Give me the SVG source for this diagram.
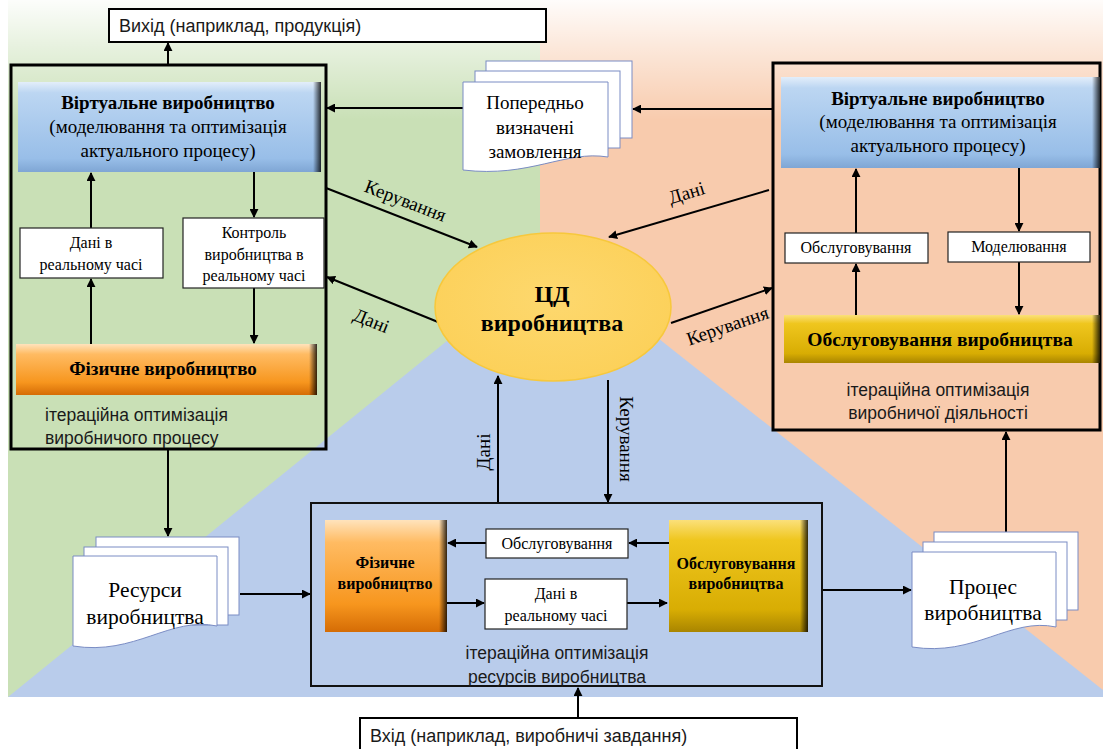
<svg xmlns="http://www.w3.org/2000/svg" width="1103" height="749" viewBox="0 0 1103 749">
<defs>
  <linearGradient id="gFade" x1="0" y1="0" x2="0" y2="1">
    <stop offset="0" stop-color="#fff" stop-opacity="0.95"/>
    <stop offset="0.4" stop-color="#fff" stop-opacity="0.55"/>
    <stop offset="1" stop-color="#fff" stop-opacity="0"/>
  </linearGradient>
  <linearGradient id="gBlue" x1="0" y1="0" x2="0" y2="1">
    <stop offset="0" stop-color="#E3EEFA"/>
    <stop offset="0.12" stop-color="#BCD6F2"/>
    <stop offset="0.85" stop-color="#98BEE8"/>
    <stop offset="1" stop-color="#7FA6D4"/>
  </linearGradient>
  <linearGradient id="gOrange" x1="0" y1="0" x2="0" y2="1">
    <stop offset="0" stop-color="#FFE3BC"/>
    <stop offset="0.2" stop-color="#FFBB62"/>
    <stop offset="0.75" stop-color="#F7961E"/>
    <stop offset="1" stop-color="#D56C05"/>
  </linearGradient>
  <linearGradient id="gGold" x1="0" y1="0" x2="0" y2="1">
    <stop offset="0" stop-color="#FBE07A"/>
    <stop offset="0.18" stop-color="#EFC61E"/>
    <stop offset="0.8" stop-color="#D8AD03"/>
    <stop offset="1" stop-color="#A98500"/>
  </linearGradient>
  <linearGradient id="gEdge" x1="0" y1="0" x2="1" y2="0">
    <stop offset="0" stop-color="#000" stop-opacity="0"/>
    <stop offset="1" stop-color="#000" stop-opacity="0.8"/>
  </linearGradient>
  <radialGradient id="gEll" cx="0.5" cy="0.45" r="0.6">
    <stop offset="0" stop-color="#FDD86E"/>
    <stop offset="1" stop-color="#FCD058"/>
  </radialGradient>
  <marker id="ah" viewBox="0 0 10 10" refX="9" refY="5" markerWidth="4.5" markerHeight="4.5" orient="auto" markerUnits="strokeWidth">
    <path d="M0,0 L10,5 L0,10 z" fill="#000"/>
  </marker>
  <style>
    .serif{font-family:'Liberation Serif','Times New Roman','DejaVu Serif',serif;fill:#000}
    .sans{font-family:'Liberation Sans',Arial,sans-serif;fill:#1a1a1a}
    .b{font-weight:bold}
    .c{text-anchor:middle}
    .box{fill:#fff;stroke:#222;stroke-width:1.2}
    .big{fill:none;stroke:#000;stroke-width:3}
    .doc{fill:#fff;stroke:#7A8CC4;stroke-width:1}
    .arr{stroke:#000;stroke-width:2;fill:none;marker-end:url(#ah)}
  </style>
</defs>

<!-- background -->
<g id="background">
  <rect x="8" y="0" width="532" height="697" fill="#C9E0B6"/>
  <rect x="540" y="0" width="563" height="697" fill="#F8CBAD"/>
  <polygon points="553,255 8,697 1103,697 1103,690" fill="#B9CCEB"/>
  <rect x="0" y="0" width="1103" height="120" fill="url(#gFade)"/>
</g>

<!-- connectors -->
<g id="connectors">
  <line class="arr" x1="168" y1="65" x2="168" y2="43"/>
  <line class="arr" x1="463" y1="108" x2="327" y2="108"/>
  <line class="arr" x1="772" y1="109" x2="633" y2="109"/>
  <line class="arr" x1="91" y1="228" x2="91" y2="173"/>
  <line class="arr" x1="254" y1="172" x2="254" y2="217"/>
  <line class="arr" x1="254" y1="288" x2="254" y2="343"/>
  <line class="arr" x1="91" y1="344" x2="91" y2="279"/>
  <line class="arr" x1="856" y1="233" x2="856" y2="169"/>
  <line class="arr" x1="1019" y1="168" x2="1019" y2="231"/>
  <line class="arr" x1="856" y1="315" x2="856" y2="264"/>
  <line class="arr" x1="1019" y1="262" x2="1019" y2="314"/>
  <line class="arr" x1="326" y1="188" x2="477" y2="247"/>
  <line class="arr" x1="438" y1="322" x2="327" y2="277"/>
  <line class="arr" x1="769" y1="190" x2="609" y2="237"/>
  <line class="arr" x1="671" y1="323" x2="772" y2="288"/>
  <line class="arr" x1="498" y1="503" x2="498" y2="376"/>
  <line class="arr" x1="608" y1="380" x2="608" y2="502"/>
  <line class="arr" x1="168" y1="449" x2="168" y2="536"/>
  <line class="arr" x1="240" y1="594" x2="310" y2="594"/>
  <line class="arr" x1="822" y1="590" x2="911" y2="590"/>
  <line class="arr" x1="1006" y1="532" x2="1006" y2="432"/>
  <line class="arr" x1="578" y1="718" x2="578" y2="688"/>
  <line class="arr" x1="486" y1="543" x2="448" y2="543"/>
  <line class="arr" x1="669" y1="543" x2="629" y2="543"/>
  <line class="arr" x1="447" y1="603" x2="484" y2="603"/>
  <line class="arr" x1="627" y1="603" x2="667" y2="603"/>
  <text class="serif" font-size="19" transform="translate(405,202) rotate(21)" text-anchor="middle" dy="5">Керування</text>
  <text class="serif" font-size="19" transform="translate(371,322) rotate(22)" text-anchor="middle" dy="5">Дані</text>
  <text class="serif" font-size="19" transform="translate(687,194) rotate(-17)" text-anchor="middle" dy="5">Дані</text>
  <text class="serif" font-size="19" transform="translate(728,327) rotate(-19)" text-anchor="middle" dy="5">Керування</text>
  <text class="serif" font-size="19" transform="translate(490,452) rotate(-90)" text-anchor="middle">Дані</text>
  <text class="serif" font-size="19" transform="translate(620,439) rotate(90)" text-anchor="middle">Керування</text>
</g>

<!-- output box -->
<g id="output">
  <rect x="109" y="9" width="437" height="33" fill="#fff" stroke="#000" stroke-width="2"/>
  <text class="sans" x="119" y="32" font-size="18">Вихід (наприклад, продукція)</text>
</g>

<!-- input box -->
<g id="input">
  <rect x="360" y="718" width="437" height="40" fill="#fff" stroke="#000" stroke-width="2"/>
  <text class="sans" x="370" y="742" font-size="18">Вхід (наприклад, виробничі завдання)</text>
</g>

<!-- left block -->
<g id="left-block">
  <rect class="big" x="11" y="65" width="315" height="384"/>
  <g id="left-virtual">
    <rect x="18" y="82" width="303" height="90" fill="url(#gBlue)"/>
    <rect x="313" y="82" width="8" height="90" fill="url(#gEdge)"/>
    <text class="serif b c" x="168" y="109" font-size="19">Віртуальне виробництво</text>
    <text class="serif c" x="168" y="133" font-size="19">(моделювання та оптимізація</text>
    <text class="serif c" x="168" y="157" font-size="19">актуального процесу)</text>
  </g>
  <g id="left-data">
    <rect class="box" x="20" y="228" width="143" height="50"/>
    <text class="serif c" x="91" y="248" font-size="16">Дані в</text>
    <text class="serif c" x="91" y="270" font-size="16">реальному часі</text>
  </g>
  <g id="left-control">
    <rect class="box" x="183" y="218" width="141" height="70"/>
    <text class="serif c" x="254" y="238" font-size="16">Контроль</text>
    <text class="serif c" x="254" y="260" font-size="16">виробництва в</text>
    <text class="serif c" x="254" y="281" font-size="16">реальному часі</text>
  </g>
  <g id="left-physical">
    <rect x="16" y="344" width="301" height="51" fill="url(#gOrange)"/>
    <rect x="309" y="344" width="8" height="51" fill="url(#gEdge)"/>
    <text class="serif b c" x="163" y="375" font-size="19">Фізичне виробництво</text>
  </g>
  <text class="sans" x="45" y="421" font-size="17.5">ітераційна оптимізація</text>
  <text class="sans" x="45" y="444" font-size="17.5">виробничого процесу</text>
</g>

<!-- orders document -->
<g id="orders">
  <rect class="doc" x="486" y="61" width="146" height="77"/>
  <rect class="doc" x="475" y="71" width="145" height="77"/>
  <path class="doc" d="M463,82 H608 V157 C565,150 530,178 463,170 Z"/>
  <text class="serif c" x="535" y="109" font-size="19">Попередньо</text>
  <text class="serif c" x="535" y="134" font-size="19">визначені</text>
  <text class="serif c" x="535" y="158" font-size="19">замовлення</text>
</g>

<!-- digital twin -->
<g id="digital-twin">
  <ellipse cx="553" cy="307" rx="118" ry="74" fill="url(#gEll)" stroke="#F7C83C" stroke-width="1.5"/>
  <text class="serif b c" x="552" y="302" font-size="24">ЦД</text>
  <text class="serif b c" x="552" y="331" font-size="24">виробництва</text>
</g>

<!-- right block -->
<g id="right-block">
  <rect class="big" x="773" y="63" width="327" height="367"/>
  <g id="right-virtual">
    <rect x="781" y="77" width="319" height="91" fill="url(#gBlue)"/>
    <rect x="1092" y="77" width="8" height="91" fill="url(#gEdge)"/>
    <text class="serif b c" x="938" y="105" font-size="19">Віртуальне виробництво</text>
    <text class="serif c" x="938" y="128" font-size="19">(моделювання та оптимізація</text>
    <text class="serif c" x="938" y="152" font-size="19">актуального процесу)</text>
  </g>
  <g id="right-service">
    <rect class="box" x="785" y="233" width="143" height="30"/>
    <text class="serif c" x="856" y="253" font-size="16">Обслуговування</text>
  </g>
  <g id="right-model">
    <rect class="box" x="948" y="232" width="142" height="30"/>
    <text class="serif c" x="1019" y="252" font-size="16">Моделювання</text>
  </g>
  <g id="right-maint">
    <rect x="784" y="315" width="316" height="48" fill="url(#gGold)"/>
    <rect x="1092" y="315" width="8" height="48" fill="url(#gEdge)"/>
    <text class="serif b c" x="940" y="346" font-size="19.5">Обслуговування виробництва</text>
  </g>
  <text class="sans c" x="938" y="396" font-size="17.5">ітераційна оптимізація</text>
  <text class="sans c" x="938" y="419" font-size="17.5">виробничої діяльності</text>
</g>

<!-- resources document -->
<g id="resources">
  <rect class="doc" x="96" y="537" width="143" height="78"/>
  <rect class="doc" x="84" y="547" width="144" height="78"/>
  <path class="doc" d="M73,556 H217 V626 C170,616 135,656 73,646 Z"/>
  <text class="serif c" x="145" y="597" font-size="21.5">Ресурси</text>
  <text class="serif c" x="145" y="624" font-size="21.5">виробництва</text>
</g>

<!-- process document -->
<g id="process">
  <rect class="doc" x="934" y="532" width="144" height="78"/>
  <rect class="doc" x="923" y="542" width="144" height="78"/>
  <path class="doc" d="M912,552 H1056 V627 C1010,617 975,657 912,647 Z"/>
  <text class="serif c" x="983" y="594" font-size="21.5">Процес</text>
  <text class="serif c" x="983" y="620" font-size="21.5">виробництва</text>
</g>

<!-- bottom block -->
<g id="bottom-block">
  <rect x="311" y="503" width="511" height="183" fill="none" stroke="#111" stroke-width="2"/>
  <g id="bottom-physical">
    <rect x="325" y="520" width="122" height="112" fill="url(#gOrange)"/>
    <rect x="439" y="520" width="8" height="112" fill="url(#gEdge)"/>
    <text class="serif b c" x="385" y="568" font-size="16">Фізичне</text>
    <text class="serif b c" x="385" y="589" font-size="16">виробництво</text>
  </g>
  <g id="bottom-service">
    <rect class="box" x="486" y="529" width="142" height="29"/>
    <text class="serif c" x="557" y="549" font-size="16">Обслуговування</text>
  </g>
  <g id="bottom-data">
    <rect class="box" x="485" y="579" width="142" height="50"/>
    <text class="serif c" x="556" y="599" font-size="16">Дані в</text>
    <text class="serif c" x="556" y="621" font-size="16">реальному часі</text>
  </g>
  <g id="bottom-maint">
    <rect x="669" y="520" width="139" height="112" fill="url(#gGold)"/>
    <rect x="800" y="520" width="8" height="112" fill="url(#gEdge)"/>
    <text class="serif b c" x="736" y="569" font-size="16">Обслуговування</text>
    <text class="serif b c" x="736" y="589" font-size="16">виробництва</text>
  </g>
  <text class="sans c" x="557" y="659" font-size="17.5">ітераційна оптимізація</text>
  <text class="sans c" x="557" y="683" font-size="17.5">ресурсів виробництва</text>
</g>
</svg>
